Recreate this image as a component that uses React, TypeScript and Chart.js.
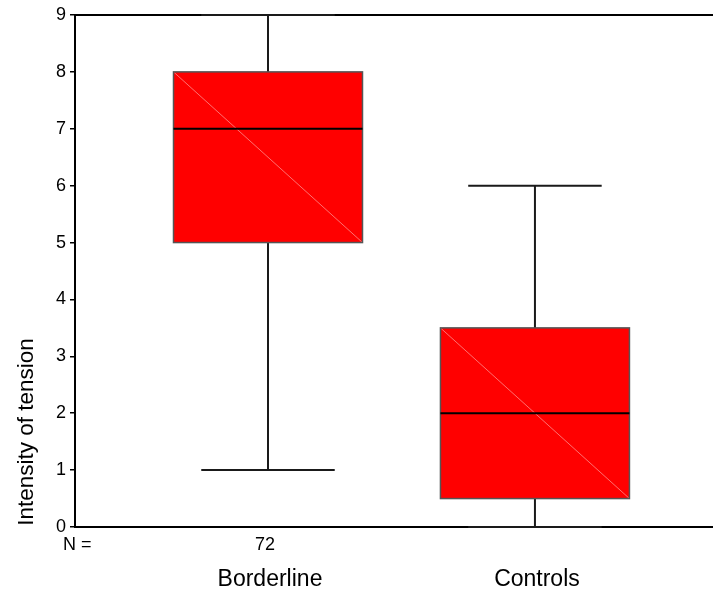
import React, { useEffect, useRef } from "react";
import { Chart, registerables } from "chart.js";

Chart.register(...registerables);

const categories = ["Borderline", "Controls"];
const nLabels = ["72", ""];
const whiskerLow = [1, 0];
const q1 = [5, 0.5];
const median = [7, 2];
const q3 = [8, 3.5];
const whiskerHigh = [9, 6];
const yTicks = [0, 1, 2, 3, 4, 5, 6, 7, 8, 9];

const FONT = "'Liberation Sans', Arial, sans-serif";

const boxPlugin = {
  id: "boxPlugin",
  afterDatasetsDraw(chart: any) {
    const { ctx, scales, chartArea } = chart;
    const xs = scales.x;
    const ys = scales.y;
    const boxHalf = 0.354;
    const capHalf = 0.25;
    ctx.save();
    // top frame line
    ctx.strokeStyle = "#000";
    ctx.lineWidth = 2;
    ctx.beginPath();
    ctx.moveTo(chartArea.left, chartArea.top);
    ctx.lineTo(chartArea.right, chartArea.top);
    ctx.stroke();

    categories.forEach((c, i) => {
      const xv = i + 1;
      const cx = xs.getPixelForValue(xv);
      const bl = xs.getPixelForValue(xv - boxHalf);
      const br = xs.getPixelForValue(xv + boxHalf);
      const cl = xs.getPixelForValue(xv - capHalf);
      const cr = xs.getPixelForValue(xv + capHalf);
      const yLo = ys.getPixelForValue(whiskerLow[i]);
      const yQ1 = ys.getPixelForValue(q1[i]);
      const yMed = ys.getPixelForValue(median[i]);
      const yQ3 = ys.getPixelForValue(q3[i]);
      const yHi = ys.getPixelForValue(whiskerHigh[i]);

      // whiskers
      ctx.strokeStyle = "#1a1a1a";
      ctx.lineWidth = 2;
      ctx.beginPath();
      ctx.moveTo(cx, yHi);
      ctx.lineTo(cx, yQ3);
      ctx.moveTo(cx, yQ1);
      ctx.lineTo(cx, yLo);
      ctx.stroke();
      // caps
      ctx.beginPath();
      ctx.moveTo(cl, yHi);
      ctx.lineTo(cr, yHi);
      ctx.moveTo(cl, yLo);
      ctx.lineTo(cr, yLo);
      ctx.stroke();

      // box
      ctx.fillStyle = "#ff0000";
      ctx.fillRect(bl, yQ3, br - bl, yQ1 - yQ3);
      // faint diagonal
      ctx.strokeStyle = "rgba(255,140,140,0.8)";
      ctx.lineWidth = 1;
      ctx.beginPath();
      ctx.moveTo(bl, yQ3);
      ctx.lineTo(br, yQ1);
      ctx.stroke();
      ctx.strokeStyle = "#555";
      ctx.lineWidth = 1.5;
      ctx.strokeRect(bl, yQ3, br - bl, yQ1 - yQ3);
      // median
      ctx.strokeStyle = "#000";
      ctx.lineWidth = 2;
      ctx.beginPath();
      ctx.moveTo(bl, yMed);
      ctx.lineTo(br, yMed);
      ctx.stroke();

      // labels
      ctx.fillStyle = "#000";
      ctx.textAlign = "center";
      ctx.textBaseline = "middle";
      ctx.font = `18px ${FONT}`;
      if (nLabels[i]) ctx.fillText(nLabels[i], cx - 3, chartArea.bottom + 18);
      ctx.font = `23px ${FONT}`;
      ctx.fillText(c, cx + 2, chartArea.bottom + 53);
    });

    ctx.font = `18px ${FONT}`;
    ctx.textAlign = "left";
    ctx.fillText("N =", chartArea.left - 12, chartArea.bottom + 18);

    // y title
    ctx.save();
    ctx.translate(27, 432);
    ctx.rotate(-Math.PI / 2);
    ctx.font = `22.5px ${FONT}`;
    ctx.textAlign = "center";
    ctx.textBaseline = "middle";
    ctx.fillText("Intensity of tension", 0, 0);
    ctx.restore();
    ctx.restore();
  },
};

export default function App() {
  const ref = useRef<HTMLCanvasElement>(null);
  useEffect(() => {
    document.body.style.margin = "0";
    const chart = new Chart(ref.current!, {
      type: "scatter",
      data: { datasets: [{ data: [], pointRadius: 0 }] },
      options: {
        animation: false,
        responsive: false,
        layout: { padding: { top: 15, right: 0, left: 0, bottom: 0 } },
        plugins: { legend: { display: false }, tooltip: { enabled: false } },
        scales: {
          x: {
            type: "linear",
            min: 0.277,
            max: 2.667,
            ticks: { display: false },
            grid: { display: false, drawTicks: false },
            border: { display: true, color: "#000", width: 2 },
            afterFit: (s: any) => {
              s.height = 68;
            },
          },
          y: {
            type: "linear",
            min: 0,
            max: 9,
            afterBuildTicks: (s: any) => {
              s.ticks = yTicks.map((v) => ({ value: v }));
            },
            ticks: {
              color: "#000",
              font: { family: FONT, size: 18 },
              padding: 4,
              callback: (v: any) => String(v),
            },
            grid: {
              display: true,
              drawOnChartArea: false,
              drawTicks: true,
              tickLength: 5,
              color: "#000",
              lineWidth: 1.5,
            },
            border: { display: true, color: "#000", width: 2 },
            afterFit: (s: any) => {
              s.width = 75;
            },
          },
        },
      },
      plugins: [boxPlugin],
    });
    return () => chart.destroy();
  }, []);
  return <canvas ref={ref} width={713} height={595} style={{ display: "block" }} />;
}
